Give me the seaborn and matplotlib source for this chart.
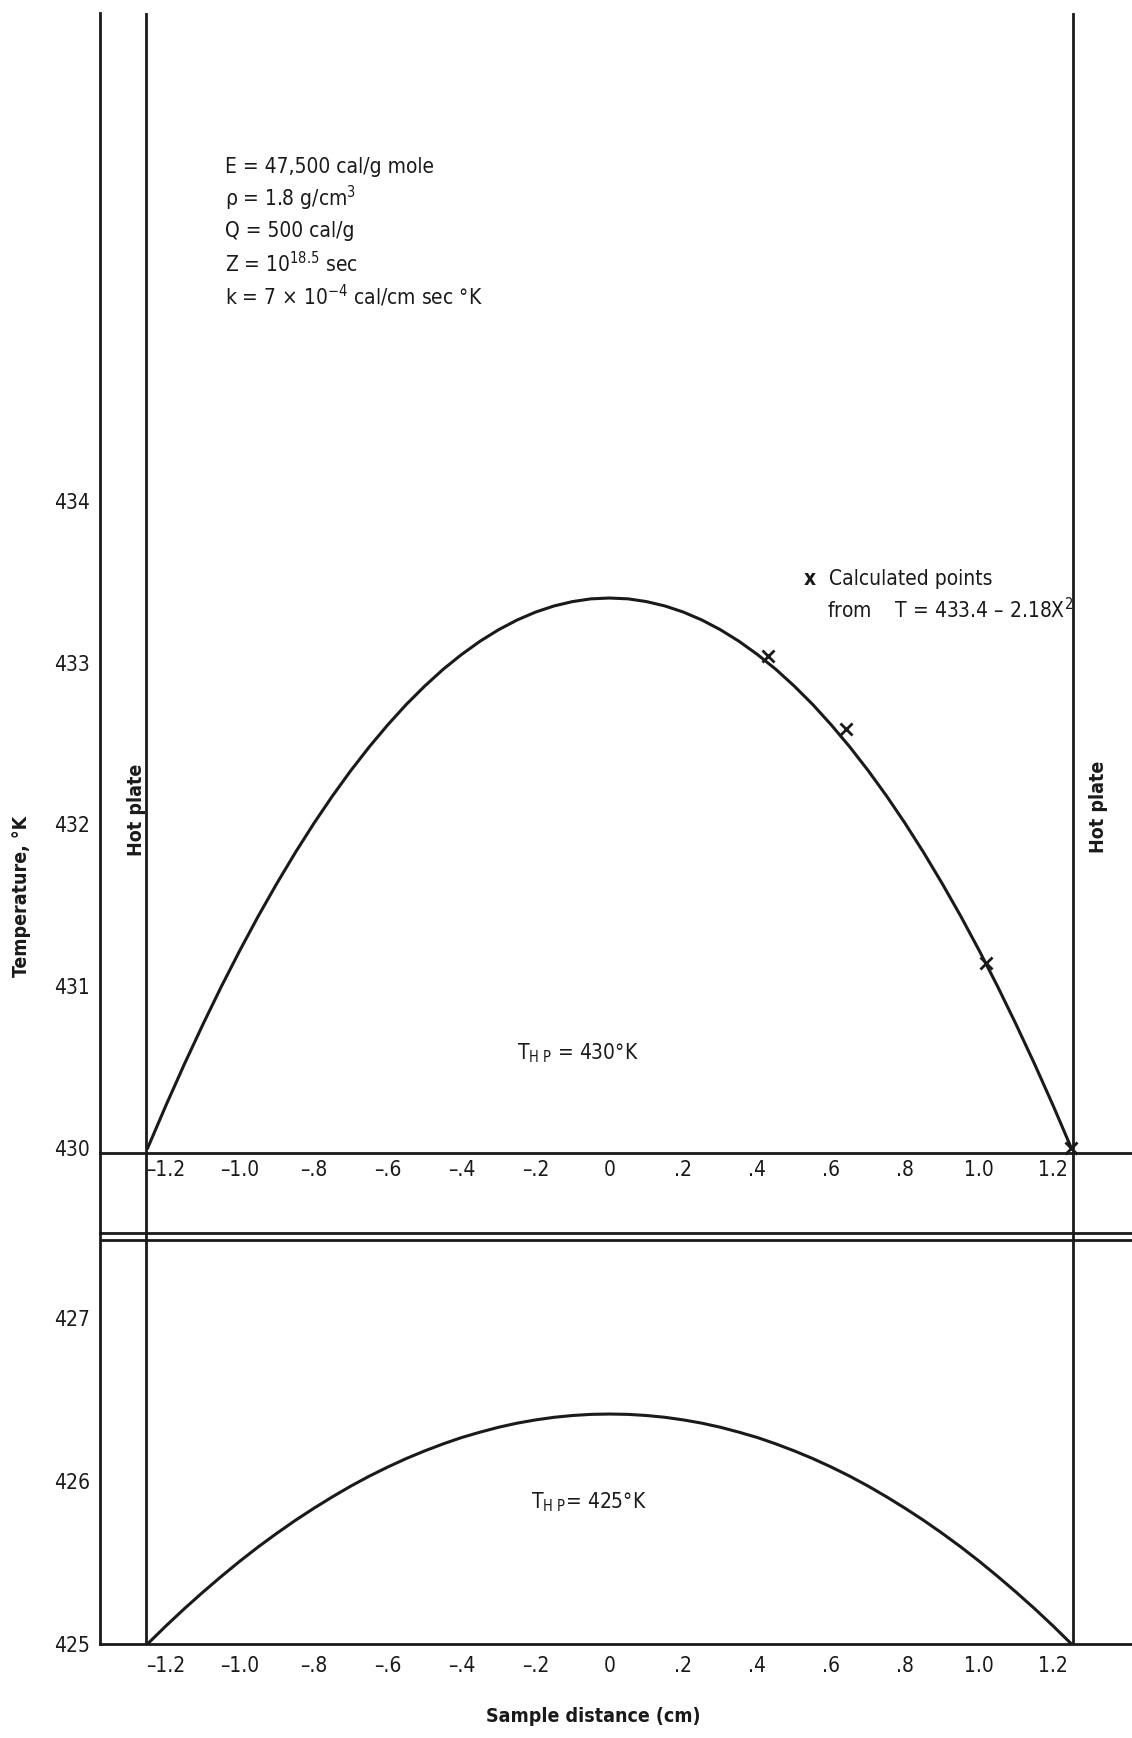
import matplotlib
matplotlib.use("Agg")
import matplotlib.pyplot as plt
import seaborn as sns
import pandas as pd
from matplotlib import font_manager as fm

# ---------------- data ----------------
x_pos = [-1.25, -1.2, -1.15, -1.1, -1.05, -1.0, -0.95, -0.9, -0.85, -0.8, -0.75, -0.7,
         -0.65, -0.6, -0.55, -0.5, -0.45, -0.4, -0.35, -0.3, -0.25, -0.2, -0.15, -0.1,
         -0.05, 0.0, 0.05, 0.1, 0.15, 0.2, 0.25, 0.3, 0.35, 0.4, 0.45, 0.5, 0.55, 0.6,
         0.65, 0.7, 0.75, 0.8, 0.85, 0.9, 0.95, 1.0, 1.05, 1.1, 1.15, 1.2, 1.25]
temp_hp430 = [429.994, 430.261, 430.517, 430.762, 430.997, 431.220, 431.433, 431.634,
              431.825, 432.005, 432.174, 432.332, 432.479, 432.615, 432.741, 432.855,
              432.959, 433.051, 433.133, 433.204, 433.264, 433.313, 433.351, 433.378,
              433.395, 433.400, 433.395, 433.378, 433.351, 433.313, 433.264, 433.204,
              433.133, 433.051, 432.959, 432.855, 432.741, 432.615, 432.479, 432.332,
              432.174, 432.005, 431.825, 431.634, 431.433, 431.220, 430.997, 430.762,
              430.517, 430.261, 429.994]
temp_hp425 = [425.000, 425.111, 425.217, 425.318, 425.415, 425.508, 425.596, 425.679,
              425.758, 425.832, 425.902, 425.968, 426.029, 426.085, 426.137, 426.184,
              426.227, 426.266, 426.299, 426.329, 426.354, 426.374, 426.390, 426.401,
              426.408, 426.410, 426.408, 426.401, 426.390, 426.374, 426.354, 426.329,
              426.299, 426.266, 426.227, 426.184, 426.137, 426.085, 426.029, 425.968,
              425.902, 425.832, 425.758, 425.679, 425.596, 425.508, 425.415, 425.318,
              425.217, 425.111, 425.000]
calc_x = [0.43, 0.64, 1.02, 1.25]
calc_T = [433.04, 432.59, 431.14, 430.00]
hot_plate_x = [-1.254, 1.254]
x_ticks = [-1.2, -1.0, -0.8, -0.6, -0.4, -0.2, 0.0, 0.2, 0.4, 0.6, 0.8, 1.0, 1.2]
x_tick_labels = ["\u20131.2", "\u20131.0", "\u2013.8", "\u2013.6", "\u2013.4", "\u2013.2",
                 "0", ".2", ".4", ".6", ".8", "1.0", "1.2"]
upper_y_ticks = [430, 431, 432, 433, 434]
lower_y_ticks = [425, 426, 427]
param_lines = ["E = 47,500 cal/g mole",
               "\u03c1 = 1.8 g/cm$^{\\mathregular{3}}$",
               "Q = 500 cal/g",
               "Z = 10$^{\\mathregular{18.5}}$ sec",
               "k = 7 \u00d7 10$^{\\mathregular{-4}}$ cal/cm sec \u00b0K"]

# ---------------- style ----------------
sns.set_theme(style="white")
names = {f.name for f in fm.fontManager.ttflist}
if "Liberation Sans Narrow" in names:
    FONT = "Liberation Sans Narrow"
else:
    FONT = "DejaVu Sans"
plt.rcParams["font.family"] = [FONT, "DejaVu Sans"]
if FONT == "DejaVu Sans":
    plt.rcParams["font.stretch"] = "condensed"
plt.rcParams["mathtext.fontset"] = "custom"
plt.rcParams["mathtext.rm"] = FONT
plt.rcParams["mathtext.it"] = FONT + ":italic"
plt.rcParams["mathtext.bf"] = FONT + ":bold"
INK = "#1a1a1a"
plt.rcParams["text.color"] = INK

W, H = 1132, 1738
fig = plt.figure(figsize=(W / 100, H / 100), dpi=100)
fig.patch.set_facecolor("white")

left = 100 / W
ax1 = fig.add_axes([left, (H - 1233) / H, 1 - left, (1233 - 13) / H])
ax2 = fig.add_axes([left, (H - 1644) / H, 1 - left, (1644 - 1233) / H])

XL = (-1.3785, 1.4137)
LW = 2.0

df_up = pd.DataFrame({"x": x_pos, "T": temp_hp430})
df_lo = pd.DataFrame({"x": x_pos, "T": temp_hp425})
df_calc = pd.DataFrame({"x": calc_x, "T": calc_T})

# upper panel
sns.lineplot(data=df_up, x="x", y="T", ax=ax1, color=INK, lw=2.2, sort=False,
             estimator=None, solid_joinstyle="round")
sns.scatterplot(data=df_calc, x="x", y="T", ax=ax1, marker="x", s=75, color=INK,
                linewidth=2.0, zorder=5)
ax1.set_xlim(*XL)
ax1.set_ylim(429.471, 437.02)
for xp in hot_plate_x:
    ax1.axvline(xp, color=INK, lw=LW)
for s in ["top", "right"]:
    ax1.spines[s].set_visible(False)
ax1.spines["bottom"].set_position(("data", 429.966))
for s in ["left", "bottom"]:
    ax1.spines[s].set_color(INK)
    ax1.spines[s].set_linewidth(LW)
ax1.set_xticks(x_ticks)
ax1.set_xticklabels(x_tick_labels)
ax1.set_yticks(upper_y_ticks)
ax1.set_yticklabels([str(v) for v in upper_y_ticks])
ax1.tick_params(axis="x", direction="in", length=6, width=1.6, color=INK, pad=5,
                labelsize=15, labelcolor=INK)
ax1.tick_params(axis="y", direction="in", length=4, width=1.6, color=INK, pad=7,
                labelsize=15, labelcolor=INK)
ax1.set_xlabel("")
ax1.set_ylabel("")

# parameters block
for i, txt in enumerate(param_lines):
    ax1.text(-1.04, 436.07 - 0.20 * i, txt, ha="left", va="center", fontsize=15)

ax1.text(0.5425, 433.52, "x", ha="center", va="center", fontsize=15, fontweight="bold")
ax1.text(0.594, 433.52, "Calculated points", ha="left", va="center", fontsize=15)
ax1.text(0.589, 433.33, "from    T = 433.4 \u2013 2.18X$^{\\mathregular{2}}$", ha="left",
         va="center", fontsize=15)
ax1.text(-0.085, 430.585, "T$_{\\mathregular{H\\ P}}$ = 430\u00b0K", ha="center",
         va="center", fontsize=15)
ax1.text(-1.281, 432.09, "Hot plate", rotation=90, ha="center", va="center",
         fontsize=14, fontweight="bold")
ax1.text(1.322, 432.11, "Hot plate", rotation=90, ha="center", va="center",
         fontsize=14, fontweight="bold")

# lower panel
sns.lineplot(data=df_lo, x="x", y="T", ax=ax2, color=INK, lw=2.2, sort=False,
             estimator=None, solid_joinstyle="round")
ax2.set_xlim(*XL)
ax2.set_ylim(425.0, 427.52)
for xp in hot_plate_x:
    ax2.axvline(xp, color=INK, lw=LW)
ax2.axhline(427.48, color=INK, lw=LW)
ax2.spines["right"].set_visible(False)
for s in ["left", "bottom", "top"]:
    ax2.spines[s].set_color(INK)
    ax2.spines[s].set_linewidth(LW)
ax2.set_xticks(x_ticks)
ax2.set_xticklabels(x_tick_labels)
ax2.set_yticks(lower_y_ticks)
ax2.set_yticklabels([str(v) for v in lower_y_ticks])
ax2.tick_params(axis="x", direction="in", length=6, width=1.6, color=INK, pad=9,
                labelsize=15, labelcolor=INK)
ax2.tick_params(axis="y", direction="in", length=4, width=1.6, color=INK, pad=7,
                labelsize=15, labelcolor=INK)
ax2.set_xlabel("")
ax2.set_ylabel("")
ax2.text(-0.056, 425.87, "T$_{\\mathregular{H\\ P}}$= 425\u00b0K", ha="center",
         va="center", fontsize=15)

# axis titles
fig.text(22 / W, 1 - 896 / H, "Temperature, \u00b0K", rotation=90, ha="center",
         va="center", fontsize=14, fontweight="bold")
fig.text(593 / W, 1 - 1716 / H, "Sample distance (cm)", ha="center", va="center",
         fontsize=14, fontweight="bold")

fig.savefig("out.png", dpi=100, facecolor="white")
